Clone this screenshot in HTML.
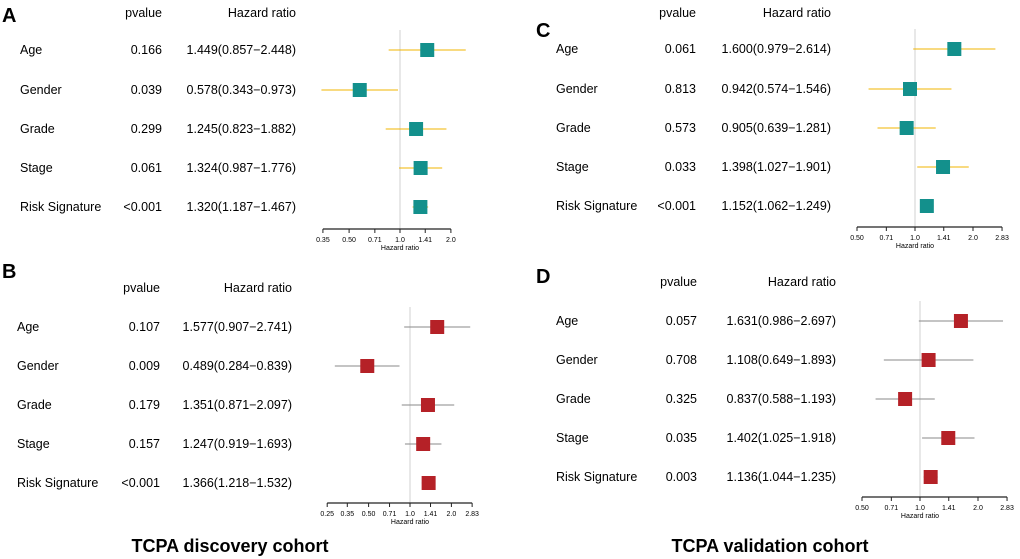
<!DOCTYPE html>
<html><head><meta charset="utf-8"><style>
body{margin:0;background:#fff}
svg{display:block;font-family:"Liberation Sans",Arial,sans-serif}
</style></head><body>
<svg id="chart" width="1020" height="559" viewBox="0 0 1020 559">
<text x="2" y="22" font-size="20" font-weight="bold">A</text>
<text x="2" y="278" font-size="20" font-weight="bold">B</text>
<text x="536" y="37" font-size="20" font-weight="bold">C</text>
<text x="536" y="283" font-size="20" font-weight="bold">D</text>
<text x="230" y="552" font-size="18" font-weight="bold" text-anchor="middle">TCPA discovery cohort</text>
<text x="770" y="552" font-size="18" font-weight="bold" text-anchor="middle">TCPA validation cohort</text>
</svg>
<script>
const categories = ["Age","Gender","Grade","Stage","Risk Signature"];
const aP = ["0.166","0.039","0.299","0.061","<0.001"];
const aHR = [1.449,0.578,1.245,1.324,1.320];
const aLo = [0.857,0.343,0.823,0.987,1.187];
const aHi = [2.448,0.973,1.882,1.776,1.467];
const bP = ["0.107","0.009","0.179","0.157","<0.001"];
const bHR = [1.577,0.489,1.351,1.247,1.366];
const bLo = [0.907,0.284,0.871,0.919,1.218];
const bHi = [2.741,0.839,2.097,1.693,1.532];
const cP = ["0.061","0.813","0.573","0.033","<0.001"];
const cHR = [1.600,0.942,0.905,1.398,1.152];
const cLo = [0.979,0.574,0.639,1.027,1.062];
const cHi = [2.614,1.546,1.281,1.901,1.249];
const dP = ["0.057","0.708","0.325","0.035","0.003"];
const dHR = [1.631,1.108,0.837,1.402,1.136];
const dLo = [0.986,0.649,0.588,1.025,1.044];
const dHi = [2.697,1.893,1.193,1.918,1.235];
const ticksA = ["0.35","0.50","0.71","1.0","1.41","2.0"];
const ticksB = ["0.25","0.35","0.50","0.71","1.0","1.41","2.0","2.83"];
const ticksCD = ["0.50","0.71","1.0","1.41","2.0","2.83"];

const NS="http://www.w3.org/2000/svg";
const svg=document.getElementById('chart');
function mk(tag,attrs,parent){const e=document.createElementNS(NS,tag);for(const k in attrs)e.setAttribute(k,attrs[k]);(parent||svg).appendChild(e);return e;}
function panel(cfg){
  const g=mk('g',{});
  
  
  const x=v=>cfg.x1+cfg.k*Math.log2(v);
  const fs=12.5;
  const h1=mk('text',{x:cfg.pEnd,y:cfg.hy,'font-size':fs,'text-anchor':'end'},g);h1.textContent='pvalue';
  
  
  const h2=mk('text',{x:cfg.hEnd,y:cfg.hy,'font-size':fs,'text-anchor':'end'},g);h2.textContent='Hazard ratio';
  
  
  const top=cfg.rows[0]-20, bot=cfg.axisY;
  const ref=mk('line',{x1:x(1),x2:x(1),y1:top,y2:bot,stroke:'#d0d0d0','stroke-width':1},g);
  
  
  categories.forEach((c,i)=>{
    const y=cfg.rows[i];
    const t1=mk('text',{x:cfg.lx,y:y+4,'font-size':fs},g);t1.textContent=c;
    
    
    const t2=mk('text',{x:cfg.pEnd,y:y+4,'font-size':fs,'text-anchor':'end'},g);t2.textContent=cfg.p[i];
    
    
    const t3=mk('text',{x:cfg.hEnd,y:y+4,'font-size':fs,'text-anchor':'end'},g);
    t3.textContent=cfg.hr[i].toFixed(3)+'('+cfg.lo[i].toFixed(3)+'\u2212'+cfg.hi[i].toFixed(3)+')';
    
    
    const ci=mk('line',{x1:x(cfg.lo[i]),x2:x(cfg.hi[i]),y1:y,y2:y,stroke:cfg.wc,'stroke-width':1},g);
    
    
    const s=14;
    const b=mk('rect',{x:x(cfg.hr[i])-s/2,y:y-s/2,width:s,height:s,fill:cfg.bc},g);
    
    
  });
  const vals=cfg.ticks.map(Number);
  const ax=mk('line',{x1:x(vals[0]),x2:x(vals[vals.length-1]),y1:cfg.axisY,y2:cfg.axisY,stroke:'#222','stroke-width':1.3},g);
  
  
  cfg.ticks.forEach(t=>{
    const xv=x(Number(t));
    mk('line',{x1:xv,x2:xv,y1:cfg.axisY,y2:cfg.axisY+4,stroke:'#222'},g);
    const tl=mk('text',{x:xv,y:cfg.axisY+13,'font-size':7,'text-anchor':'middle'},g);tl.textContent=t;
    
    
  });
  const at=mk('text',{x:x(1),y:cfg.axisY+21,'font-size':7,'text-anchor':'middle'},g);at.textContent='Hazard ratio';
  
  
}
panel({id:'a',x1:400,k:50.9,axisY:229,rows:[50,90,129,168,207],lx:20,pEnd:162,hEnd:296,hy:17,p:aP,hr:aHR,lo:aLo,hi:aHi,ticks:ticksA,bc:'#13908c',wc:'#f0b400'});
panel({id:'b',x1:410,k:41.4,axisY:503,rows:[327,366,405,444,483],lx:17,pEnd:160,hEnd:292,hy:292,p:bP,hr:bHR,lo:bLo,hi:bHi,ticks:ticksB,bc:'#b52127',wc:'#8a8a8a'});
panel({id:'c',x1:915,k:58,axisY:227,rows:[49,89,128,167,206],lx:556,pEnd:696,hEnd:831,hy:17,p:cP,hr:cHR,lo:cLo,hi:cHi,ticks:ticksCD,bc:'#13908c',wc:'#f0b400'});
panel({id:'d',x1:920,k:58,axisY:497,rows:[321,360,399,438,477],lx:556,pEnd:697,hEnd:836,hy:286,p:dP,hr:dHR,lo:dLo,hi:dHi,ticks:ticksCD,bc:'#b52127',wc:'#8a8a8a'});
</script>
</body></html>
